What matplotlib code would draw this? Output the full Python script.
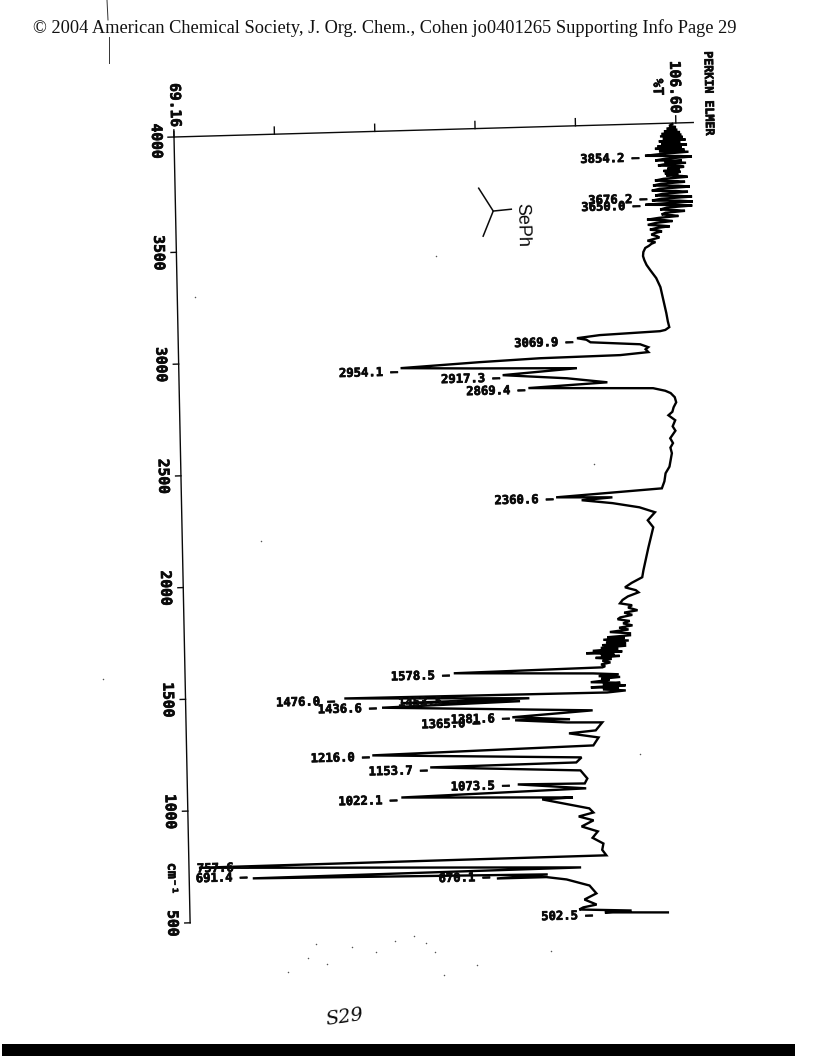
import matplotlib
matplotlib.use("Agg")
import matplotlib.pyplot as plt
import matplotlib.patheffects as pe
from matplotlib.transforms import Affine2D
from matplotlib.lines import Line2D
from matplotlib.patches import Rectangle

wavenumber = [4012, 4004, 3998, 3992, 3986, 3980, 3975, 3969, 3964, 3958, 3953, 3947, 3941, 3936, 3930, 3925, 3919, 3914, 3908, 3903,
              3897, 3892, 3886, 3880, 3873, 3868, 3864, 3858, 3851, 3847, 3843, 3837, 3832, 3828, 3823, 3819, 3813, 3808, 3803, 3797,
              3792, 3787, 3783, 3778, 3774, 3768, 3761, 3756, 3752, 3746, 3739, 3735, 3730, 3724, 3716, 3712, 3707, 3701, 3694, 3690,
              3685, 3679, 3672, 3668, 3663, 3658, 3654, 3649, 3645, 3639, 3631, 3627, 3622, 3616, 3609, 3604, 3600, 3594, 3587, 3583,
              3578, 3572, 3564, 3560, 3555, 3549, 3542, 3538, 3533, 3527, 3520, 3513, 3506, 3499, 3493, 3486, 3479, 3470, 3461,
              3443, 3425, 3407, 3385, 3361, 3325, 3284, 3225, 3167, 3130, 3104, 3092, 3087, 3077, 3066, 3058, 3046, 3031, 3017, 3008, 2995,
              2985, 2981, 2971, 2954, 2944, 2932, 2910, 2888, 2865, 2849, 2833, 2820, 2809, 2790, 2767, 2745, 2725, 2710, 2687, 2660,
              2640, 2607, 2585, 2565, 2540, 2510, 2480, 2451, 2415, 2384, 2357, 2350, 2341, 2324, 2302, 2278, 2243, 2211, 2120, 2020,
              1989, 1965, 1946, 1932, 1922, 1905, 1890, 1875, 1865, 1855, 1842, 1833, 1822, 1812, 1804, 1795, 1785, 1775, 1766, 1757,
              1748, 1740, 1731, 1725, 1720, 1714, 1708, 1702, 1696, 1690, 1685, 1678, 1672, 1666, 1660, 1656, 1650, 1645, 1640, 1634,
              1628, 1620, 1612, 1604, 1596, 1591, 1583, 1565, 1558, 1552, 1546, 1540, 1534, 1526, 1520, 1514, 1508, 1503, 1498, 1492,
              1485, 1478, 1484, 1462, 1456, 1450, 1438, 1400, 1379, 1363, 1365, 1349, 1345, 1310, 1300, 1278, 1243, 1226, 1191, 1169,
              1165, 1133, 1096, 1074, 1078, 1052, 1034, 1013, 1008, 962, 943, 927, 908, 882, 858, 830, 803, 775, 750, 745,
              699, 691, 672, 660, 660, 647, 617, 581, 555, 531, 520, 511, 500, 495, 487]
transmittance = [106.33, 106.1, 106.6, 105.9, 106.7, 105.7, 106.9, 105.5, 107.0, 105.4, 107.1, 105.6, 107.3, 105.3, 106.9, 105.5, 107.4, 105.2, 107.0, 105.0,
                 107.2, 105.3, 107.5, 105.6, 104.25, 106.8, 107.75, 105.8, 105.0, 107.0, 105.7, 107.3, 105.6, 105.2, 106.9, 107.15, 105.9, 106.8, 105.6, 106.9,
                 105.7, 106.7, 105.8, 107.0, 107.4, 105.6, 104.95, 106.6, 107.2, 105.4, 104.8, 106.7, 107.55, 105.3, 104.7, 106.5, 107.4, 105.5, 104.95, 106.6,
                 107.7, 105.4, 104.7, 106.8, 107.75, 105.6, 104.2, 106.7, 107.7, 105.8, 105.3, 106.4, 107.15, 105.7, 105.4, 106.2, 106.65, 105.2, 104.3, 105.6,
                 106.2, 105.0, 104.35, 105.2, 106.0, 105.0, 104.5, 105.1, 105.4, 104.9, 104.6, 105.0, 105.2, 104.7, 104.3, 104.9, 104.6, 104.4, 104.13,
                 103.98, 103.95, 104.04, 104.2, 104.47, 104.9, 105.2, 105.4, 105.6, 105.7, 105.8, 105.5, 105.1, 100.6, 98.9, 99.6, 99.9, 103.6, 104.2, 104.0, 104.2,
                 102.1, 96.1, 91.6, 85.7, 91.0, 98.85, 93.3, 98.1, 101.1, 95.2, 104.5, 105.4, 105.8, 106.1, 106.2, 106.0, 105.9, 105.6, 106.1, 105.9,
                 106.1, 105.7, 105.9, 105.7, 105.8, 105.7, 105.6, 105.3, 105.2, 105.0, 97.1, 101.3, 99.0, 101.3, 103.3, 104.45, 103.9, 104.3, 103.9, 103.5,
                 103.4, 102.6, 102.1, 102.9, 103.1, 102.3, 101.9, 101.7, 102.6, 102.3, 103.0, 102.0, 102.6, 101.7, 101.5, 102.4, 101.9, 102.6, 101.6, 102.3,
                 100.9, 102.4, 102.4, 100.7, 102.0, 100.4, 102.3, 100.6, 102.1, 100.3, 102.1, 100.2, 101.5, 99.6, 101.8, 99.1, 101.2, 100.2, 101.6, 99.8,
                 101.0, 100.3, 100.9, 100.2, 100.5, 100.3, 89.2, 99.6, 101.5, 100.0, 101.6, 100.2, 100.8, 99.4, 101.6, 100.3, 102.0, 99.4, 101.5, 100.3,
                 102.0, 100.6, 81.0, 94.8, 85.2, 94.1, 83.8, 99.5, 93.5, 97.8, 93.7, 97.6, 100.2, 99.7, 97.7, 99.9, 99.5, 83.0, 98.6, 98.2,
                 87.3, 98.5, 99.0, 98.8, 93.8, 98.9, 85.1, 97.9, 95.6, 99.1, 99.4, 98.3, 99.4, 98.5, 99.7, 99.3, 100.1, 100.0, 100.3, 69.9,
                 98.4, 73.9, 95.9, 92.1, 95.8, 97.3, 99.0, 99.5, 98.6, 99.5, 98.5, 98.2, 102.1, 100.1, 104.8]

# ---- peak labels: text and where its right end sits (%T, cm-1)
peak_labels = ["3854.2", "3676.2", "3650.0", "3069.9", "2954.1", "2917.3", "2869.4", "2360.6", "1578.5", "1476.0",
               "1453.5", "1436.6", "1381.6", "1365.0", "1216.0", "1153.7", "1073.5", "1022.1", "757.6", "691.4",
               "670.1", "502.5"]
peak_label_T = [103.82, 104.35, 103.82, 98.61, 85.5, 93.1, 94.96, 96.9, 88.9, 80.3,
                89.4, 83.4, 93.3, 91.1, 82.8, 87.1, 93.2, 84.8, 73.6, 73.5,
                91.6, 99.2]
peak_label_W = [3864, 3679, 3649, 3049, 2937, 2897, 2840, 2349, 1574, 1472,
                1457, 1436, 1374, 1356, 1218, 1152, 1074, 1022, 740, 696,
                666, 483]

# ---- axes
W_ticks = [4000, 3500, 3000, 2500, 2000, 1500, 1000, 500]
W_tick_labels = ["4000", "3500", "3000", "2500", "2000", "1500", "1000", "500"]
T_min, T_max = 69.16, 106.60
T_ticks = [69.16, 76.65, 84.14, 91.62, 99.11, 106.60]

# ---- structure sketch, (%T, cm-1)
bond_T = [91.8, 92.85, 92.06]
bond_W = [3749, 3645, 3534]
bond2_T = [92.85, 94.2]
bond2_W = [3645, 3651]

# ---- dust on the scan, (%T, cm-1)
dust_T = [78.5, 81.2, 83.0, 84.4, 85.8, 86.7, 87.4, 77.9, 79.3, 76.4, 90.5, 88.0, 63.0, 96.0, 88.5, 100.0, 103.0, 75.0, 70.5, 93.0]
dust_W = [390, 372, 345, 392, 415, 380, 340, 330, 300, 270, 275, 235, 1600, 330, 3450, 2500, 1200, 2200, 3300, 2900]

fig = plt.figure(figsize=(8.16, 10.56), dpi=100, facecolor="white")

# unsheared axes rectangle, given in pixels of the 816x1056 page
ax_left, ax_right, ax_top, ax_bottom = 174.0, 701.3, 137.0, 927.3
ax = fig.add_axes([ax_left / 816, 1 - ax_bottom / 1056, (ax_right - ax_left) / 816, (ax_bottom - ax_top) / 1056])
ax.set_xlim(69.16, 108.5)
ax.set_ylim(480, 4016)
ax.axis("off")

# the sheet was scanned slightly askew
ox, oy = ax_left, 1056 - ax_top
skew = Affine2D().translate(-ox, -oy).skew(-0.0205, 0.0279).translate(ox, oy)
tr = ax.transData + skew

W_top = 4016
ink = "#0a0a0a"
heavy = [pe.withStroke(linewidth=0.5, foreground=ink)]
mono = dict(family="DejaVu Sans Mono", fontweight="bold", color=ink, clip_on=False,
            transform=tr, path_effects=heavy)

# frame
ax.plot([T_min, 107.9], [W_top, W_top], color=ink, lw=1.0, transform=tr, clip_on=False)
ax.plot([T_min, T_min], [W_top + 25, 500], color=ink, lw=1.0, transform=tr, clip_on=False)
ax.plot([T_min - 0.45, T_min], [W_top, W_top], color=ink, lw=1.0, transform=tr, clip_on=False)
for t in T_ticks:
    ax.plot([t, t], [W_top, W_top + 32], color=ink, lw=1.0, transform=tr, clip_on=False)
for w in W_ticks[1:]:
    ax.plot([T_min - 0.4, T_min], [w, w], color=ink, lw=1.0, transform=tr, clip_on=False)

# spectrum
ax.plot(transmittance, wavenumber, color="black", lw=1.7, solid_joinstyle="miter",
        transform=tr, clip_on=False)

# axis labels
for w, s in zip(W_ticks, W_tick_labels):
    ax.text(T_min - 1.3, w, s, fontsize=10.5, rotation=-88.8, ha="center", va="center", **mono)
ax.text(T_min - 1.3, 699, "cm⁻¹", fontsize=9.5, rotation=-88.8, ha="center", va="center", **mono)
ax.text(69.3, 4159, "69.16", fontsize=10.5, rotation=-88.8, ha="center", va="center", **mono)
ax.text(106.6, 4177, "106.60", fontsize=10.5, rotation=-88.8, ha="center", va="center", **mono)
ax.text(105.3, 4179, "%T", fontsize=10, rotation=-88.8, ha="center", va="center", **mono)
ax.text(109.1, 4145, "PERKIN ELMER", fontsize=8.4, rotation=-88.8, ha="center", va="center", **mono)

# peak labels
for s, t, w in zip(peak_labels, peak_label_T, peak_label_W):
    ax.text(t, w, s + " –", fontsize=8.8, rotation=1.5, rotation_mode="anchor",
            ha="right", va="center", **mono)

# structure
ax.plot(bond_T, bond_W, color=ink, lw=1.1, transform=tr, clip_on=False)
ax.plot(bond2_T, bond2_W, color=ink, lw=1.1, transform=tr, clip_on=False)
ax.text(95.0, 3579, "SePh", family="Liberation Sans", fontsize=13, rotation=-88.8, color=ink,
        ha="center", va="center", transform=tr, clip_on=False)

# dust
ax.scatter(dust_T, dust_W, s=1.2, color="#555555", linewidths=0, transform=tr, clip_on=False)

# page furniture
fig.text(33 / 816, 1 - 28 / 1056,
         "© 2004 American Chemical Society, J. Org. Chem., Cohen jo0401265 Supporting Info Page 29",
         family="Liberation Serif", fontsize=13.2, color="#111111", ha="left", va="center")
fig.text(345 / 816, 1 - 1017 / 1056, "S29", family="DejaVu Serif", style="italic", fontsize=14,
         color=ink, ha="center", va="center", rotation=8)
fig.add_artist(Line2D([107 / 816, 108 / 816], [1, 1 - 20 / 1056], color="#333333", lw=0.7))
fig.add_artist(Line2D([109 / 816, 109 / 816], [1 - 37 / 1056, 1 - 63 / 1056], color="#333333", lw=0.7))
fig.add_artist(Rectangle((2 / 816, 0), 793 / 816, 12.5 / 1056, transform=fig.transFigure,
                         facecolor="black", edgecolor="none"))

fig.savefig("out.png", dpi=100, facecolor="white")
